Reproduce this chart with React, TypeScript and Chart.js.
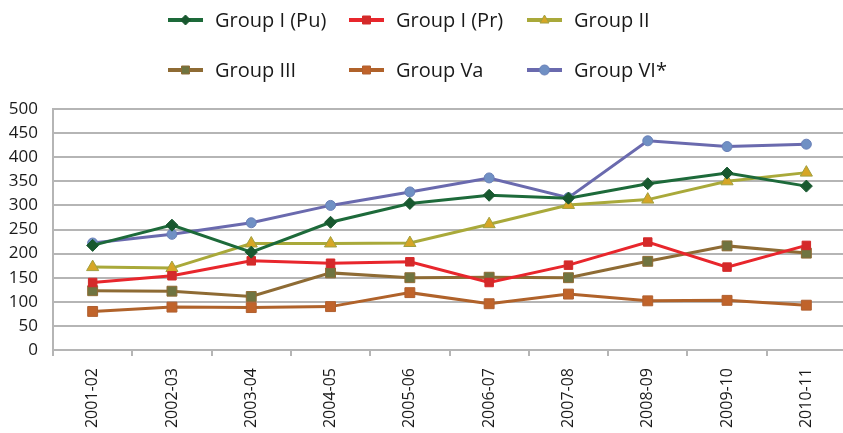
import React, { useEffect, useRef } from "react";
import { Chart, registerables } from "chart.js";

Chart.register(...registerables);

const categories = ["2001-02", "2002-03", "2003-04", "2004-05", "2005-06", "2006-07", "2007-08", "2008-09", "2009-10", "2010-11"];
const groupIPu = [217, 259, 203, 265, 304, 321, 315, 345, 367, 340];
const groupIPr = [140, 154, 185, 180, 183, 140, 176, 224, 172, 217];
const groupII = [172, 170, 221, 221, 222, 261, 301, 312, 350, 368];
const groupIII = [123, 122, 111, 160, 150, 151, 150, 184, 216, 201];
const groupVa = [80, 89, 88, 90, 119, 96, 116, 102, 103, 93];
const groupVI = [222, 240, 264, 300, 328, 357, 316, 434, 422, 427];
const yTicks = [0, 50, 100, 150, 200, 250, 300, 350, 400, 450, 500];

const FONT = "'Open Sans', 'Noto Sans', sans-serif";
const GRID = "#b5b5b5";

function drawMarker(ctx: CanvasRenderingContext2D, style: string, x: number, y: number, r: number, fill: string, stroke: string) {
  ctx.save();
  ctx.fillStyle = fill;
  ctx.strokeStyle = stroke;
  ctx.lineWidth = 1;
  ctx.beginPath();
  if (style === "rectRot") {
    ctx.moveTo(x, y - r);
    ctx.lineTo(x + r, y);
    ctx.lineTo(x, y + r);
    ctx.lineTo(x - r, y);
    ctx.closePath();
  } else if (style === "rect") {
    ctx.rect(x - r * 0.8, y - r * 0.8, r * 1.6, r * 1.6);
  } else if (style === "triangle") {
    ctx.moveTo(x, y - r);
    ctx.lineTo(x + r * 0.9, y + r * 0.6);
    ctx.lineTo(x - r * 0.9, y + r * 0.6);
    ctx.closePath();
  } else {
    ctx.arc(x, y, r, 0, Math.PI * 2);
  }
  ctx.fill();
  ctx.stroke();
  ctx.restore();
}

const legendPlugin = {
  id: "customLegend",
  afterDraw(chart: any) {
    const ctx: CanvasRenderingContext2D = chart.ctx;
    const colX = [168, 349, 527];
    const rowY = [20, 70];
    chart.data.datasets.forEach((ds: any, i: number) => {
      const x0 = colX[i % 3];
      const y = rowY[Math.floor(i / 3)];
      ctx.save();
      ctx.strokeStyle = ds.borderColor;
      ctx.lineWidth = 4;
      ctx.beginPath();
      ctx.moveTo(x0, y);
      ctx.lineTo(x0 + 35, y);
      ctx.stroke();
      drawMarker(ctx, ds.pointStyle, x0 + 17.5, y, 5, ds.pointBackgroundColor, ds.pointBorderColor);
      ctx.fillStyle = "#1a1a1a";
      ctx.font = `20px ${FONT}`;
      ctx.textBaseline = "middle";
      ctx.textAlign = "left";
      ctx.fillText(ds.label, x0 + 47, y + 1);
      ctx.restore();
    });
  },
};

export default function App() {
  const ref = useRef<HTMLCanvasElement | null>(null);

  useEffect(() => {
    document.documentElement.style.overflow = "hidden";
    document.body.style.overflow = "hidden";
    const mk = (label: string, data: number[], line: string, fill: string, border: string, style: string, r: number) => ({
      label,
      data,
      borderColor: line,
      backgroundColor: line,
      borderWidth: 3,
      pointStyle: style,
      pointRadius: r,
      pointHoverRadius: r,
      pointBackgroundColor: fill,
      pointBorderColor: border,
      pointBorderWidth: 1,
      tension: 0,
    });
    const chart = new Chart(ref.current as HTMLCanvasElement, {
      type: "line",
      data: {
        labels: categories,
        datasets: [
          mk("Group I (Pu)", groupIPu, "#1d6a3a", "#18582f", "#18582f", "rectRot", 6),
          mk("Group I (Pr)", groupIPr, "#e8262c", "#d42a2a", "#d42a2a", "rect", 6),
          mk("Group II", groupII, "#a9a93a", "#d6a626", "#a0a040", "triangle", 7),
          mk("Group III", groupIII, "#8e6b34", "#6f7440", "#8e6b34", "rect", 7),
          mk("Group Va", groupVa, "#b0622a", "#c0632a", "#b06030", "rect", 7),
          mk("Group VI*", groupVI, "#6a6aae", "#7090c4", "#6a80b8", "circle", 5),
        ] as any,
      },
      options: {
        animation: false,
        responsive: true,
        maintainAspectRatio: false,
        layout: { padding: { top: 109, left: 0, right: 0, bottom: 0 } },
        plugins: { legend: { display: false }, tooltip: { enabled: false } },
        scales: {
          x: {
            offset: true,
            grid: { display: true, drawOnChartArea: false, drawTicks: true, tickLength: 6, offset: true, color: GRID, lineWidth: 2 },
            border: { display: true, color: GRID, width: 2 },
            ticks: { color: "#1a1a1a", font: { family: FONT, size: 16 }, minRotation: 90, maxRotation: 90, padding: 12, autoSkip: false },
            afterFit: (s: any) => { s.height = 83; },
          },
          y: {
            min: 0,
            max: 500,
            afterBuildTicks: (s: any) => { s.ticks = yTicks.map((v) => ({ value: v })); },
            grid: { color: GRID, lineWidth: 2, drawTicks: false },
            border: { display: true, color: GRID, width: 2 },
            ticks: { color: "#1a1a1a", font: { family: FONT, size: 17 }, padding: 15 },
            afterFit: (s: any) => { s.width = 53; },
          },
        },
      },
      plugins: [legendPlugin],
    });
    return () => chart.destroy();
  }, []);

  return (
    <div style={{ position: "fixed", left: 0, top: 0, width: 854, height: 433 }}>
      <canvas ref={ref} />
    </div>
  );
}
